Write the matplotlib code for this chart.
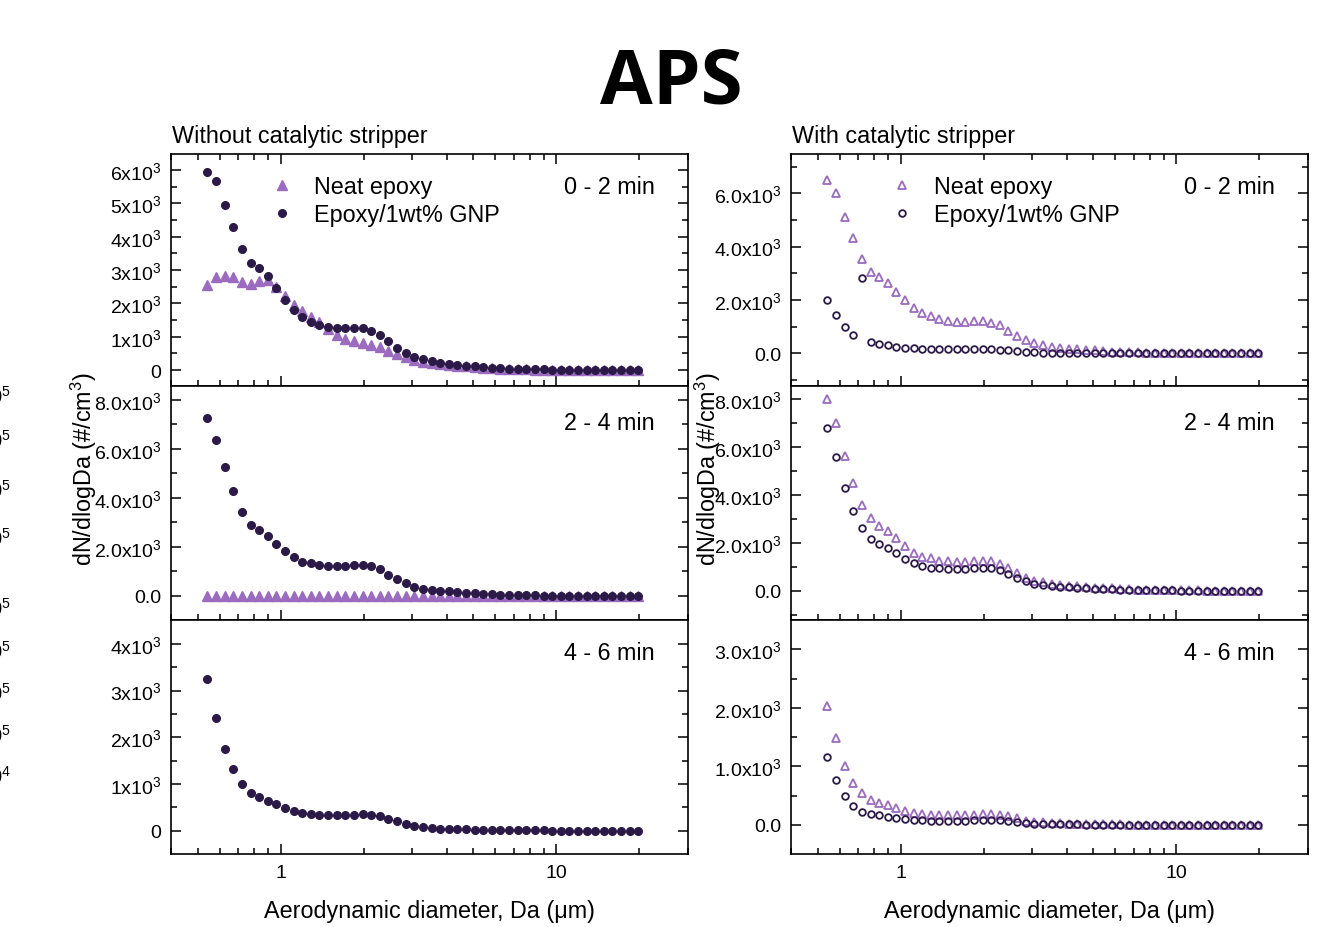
import numpy as np
import matplotlib
matplotlib.use("Agg")
import matplotlib.pyplot as plt
from matplotlib.ticker import FixedLocator, LogLocator, NullFormatter, FixedFormatter

plt.rcParams['font.family'] = ['Liberation Sans', 'DejaVu Sans']
plt.rcParams['mathtext.fontset'] = 'custom'
plt.rcParams['mathtext.rm'] = 'Liberation Sans'
plt.rcParams['mathtext.it'] = 'Liberation Sans:italic'
plt.rcParams['mathtext.default'] = 'regular'

# --- APS channel midpoints (um) ---
diam = [0.542, 0.583, 0.626, 0.673, 0.723, 0.777, 0.835, 0.898, 0.965, 1.037,
        1.114, 1.197, 1.286, 1.382, 1.486, 1.596, 1.715, 1.843, 1.981, 2.129,
        2.288, 2.458, 2.642, 2.839, 3.051, 3.278, 3.523, 3.786, 4.068, 4.371,
        4.698, 5.048, 5.425, 5.829, 6.264, 6.732, 7.234, 7.774, 8.354, 8.977,
        9.647, 10.37, 11.14, 11.97, 12.86, 13.82, 14.86, 15.96, 17.15, 18.43, 19.81]

# --- Without catalytic stripper ---
neat_0_2 = [2550, 2780, 2830, 2800, 2650, 2580, 2670, 2700, 2500, 2230,
            1960, 1760, 1580, 1430, 1230, 1060, 930, 860, 810, 760,
            680, 580, 480, 380, 300, 240, 200, 170, 150, 130,
            110, 90, 70, 55, 40, 32, 25, 20, 15, 12,
            9, 7, 5, 4, 3, 3, 2, 2, 1, 1, 1]
gnp_0_2 = [5930, 5660, 4960, 4300, 3630, 3220, 3070, 2830, 2460, 2110,
           1810, 1590, 1450, 1350, 1280, 1250, 1250, 1250, 1250, 1180,
           1050, 870, 660, 510, 380, 320, 260, 220, 190, 160,
           130, 110, 90, 70, 55, 45, 35, 28, 22, 18,
           14, 11, 9, 7, 6, 5, 4, 3, 3, 2, 2]
neat_2_4 = [0, 0, 0, 0, 0, 0, 0, 0, 0, 0,
            0, 0, 0, 0, 0, 0, 0, 0, 0, 0,
            0, 0, 0, 0, 0, 0, 0, 0, 0, 0,
            0, 0, 0, 0, 0, 0, 0, 0, 0, 0,
            0, 0, 0, 0, 0, 0, 0, 0, 0, 0, 0]
gnp_2_4 = [7240, 6370, 5240, 4260, 3440, 2910, 2690, 2440, 2130, 1820,
           1580, 1400, 1330, 1250, 1220, 1220, 1220, 1250, 1260, 1220,
           1090, 870, 680, 520, 370, 290, 230, 200, 190, 160,
           130, 110, 90, 70, 55, 45, 35, 28, 22, 17,
           13, 10, 8, 6, 5, 4, 3, 3, 2, 2, 1]
gnp_4_6 = [3250, 2410, 1740, 1310, 990, 810, 730, 640, 560, 490,
           410, 380, 350, 340, 330, 340, 340, 340, 350, 340,
           310, 260, 200, 140, 100, 70, 50, 43, 36, 33,
           28, 23, 19, 15, 12, 10, 8, 6, 5, 4,
           3, 3, 2, 2, 2, 1, 1, 1, 1, 1, 1]

# --- With catalytic stripper ---
cs_neat_0_2 = [6500, 6010, 5125, 4310, 3525, 3040, 2860, 2640, 2310, 2000,
               1700, 1510, 1390, 1290, 1200, 1175, 1175, 1200, 1200, 1150,
               1050, 840, 650, 500, 400, 310, 250, 200, 175, 140,
               125, 110, 90, 60, 45, 35, 28, 22, 18, 15,
               12, 10, 8, 6, 5, 4, 3, 3, 2, 2, 2]
cs_gnp_0_2 = [2010, 1450, 990, 700, 2830, 410, 350, 300, 250, 210,
              190, 160, 150, 150, 150, 150, 150, 150, 145, 140,
              137, 110, 90, 60, 30, 15, 8, 5, 3, 3,
              2, 2, 2, 1, 1, 1, 1, 1, 1, 1,
              1, 1, 1, 1, 1, 1, 1, 1, 1, 1, 1]
cs_neat_2_4 = [8000, 7000, 5630, 4490, 3590, 3020, 2710, 2490, 2180, 1850,
               1590, 1420, 1350, 1250, 1220, 1210, 1210, 1250, 1250, 1225,
               1130, 950, 740, 520, 420, 350, 280, 240, 210, 190,
               160, 130, 120, 100, 75, 60, 45, 35, 28, 22,
               17, 13, 10, 8, 6, 5, 4, 3, 3, 2, 2]
cs_gnp_2_4 = [6790, 5560, 4270, 3340, 2620, 2160, 1960, 1790, 1560, 1310,
              1140, 1030, 960, 930, 920, 920, 920, 930, 960, 950,
              860, 690, 540, 390, 280, 225, 200, 170, 140, 125,
              100, 85, 70, 55, 40, 30, 22, 17, 13, 10,
              8, 6, 5, 4, 3, 3, 2, 2, 1, 1, 1]
cs_neat_4_6 = [2030, 1480, 1000, 720, 540, 420, 380, 330, 285, 240,
               205, 180, 165, 165, 165, 165, 165, 170, 180, 180,
               175, 150, 115, 70, 55, 40, 30, 25, 20, 16,
               13, 10, 8, 6, 5, 4, 3, 3, 2, 2,
               2, 1, 1, 1, 1, 1, 1, 1, 1, 1, 1]
cs_gnp_4_6 = [1150, 760, 485, 325, 220, 180, 160, 137, 120, 97,
              85, 74, 68, 68, 68, 68, 68, 74, 80, 80,
              78, 65, 50, 30, 20, 15, 10, 8, 6, 5,
              4, 3, 3, 2, 2, 2, 1, 1, 1, 1,
              1, 1, 1, 1, 1, 1, 1, 1, 1, 1, 1]

periods = ['0 - 2 min', '2 - 4 min', '4 - 6 min']

NEAT_C = '#9b6bc0'
GNP_C = '#2b1a47'

W, H = 1327, 928
fig = plt.figure(figsize=(W / 100, H / 100), dpi=100)


def px_axes(x0, x1, y0, y1):
    return fig.add_axes([x0 / W, 1 - y1 / H, (x1 - x0) / W, (y1 - y0) / H])


def ylabels(ticks, decimals):
    out = []
    for t in ticks:
        if t == 0:
            out.append('0.0' if decimals else '0')
        else:
            m = t / 1000
            out.append((f'{m:.1f}' if decimals else f'{m:.0f}') + 'x10$^3$')
    return out


def style(ax, ylim, major, minor, decimals, top, bottom_labels):
    ax.set_xscale('log')
    ax.set_xlim(0.4, 30)
    ax.set_ylim(*ylim)
    ax.yaxis.set_major_locator(FixedLocator(major))
    ax.yaxis.set_minor_locator(FixedLocator(minor))
    ax.yaxis.set_major_formatter(FixedFormatter(ylabels(major, decimals)))
    ax.xaxis.set_major_locator(LogLocator(base=10, numticks=10))
    ax.xaxis.set_minor_locator(LogLocator(base=10, subs=np.arange(2, 10), numticks=10))
    ax.xaxis.set_minor_formatter(NullFormatter())
    ax.tick_params(which='both', direction='in', top=top, right=True, labelsize=14, width=1.1)
    ax.tick_params(which='major', length=7, pad=7)
    ax.tick_params(which='minor', length=4)
    if bottom_labels:
        ax.set_xticks([1, 10])
        ax.set_xticklabels(['1', '10'])
    else:
        ax.tick_params(axis='x', labelbottom=False)
    for s in ax.spines.values():
        s.set_linewidth(1.2)


def add_legend(ax):
    ax.legend(loc='upper left', bbox_to_anchor=(0.194, 0.91), frameon=False,
              fontsize=16.8, handlelength=0.9, handletextpad=0.95,
              labelspacing=0.22, borderpad=0, borderaxespad=0)


rows = [(155, 387), (387, 621), (621, 855)]

# left column: filled markers
left_data = [(neat_0_2, gnp_0_2), (neat_2_4, gnp_2_4), (None, gnp_4_6)]
left_lims = [(-480, 6480), (-980, 8560), (-500, 4510)]
left_major = [[0, 1000, 2000, 3000, 4000, 5000, 6000],
              [0, 2000, 4000, 6000, 8000],
              [0, 1000, 2000, 3000, 4000]]
left_minor = [list(range(500, 6500, 1000)), list(range(1000, 9000, 2000)),
              list(range(500, 4500, 1000))]
left_dec = [False, True, False]

for i, (y0, y1) in enumerate(rows):
    ax = px_axes(171, 688, y0, y1)
    neat, gnp = left_data[i]
    if neat is not None:
        ax.plot(diam, neat, linestyle='none', marker='^', ms=6.5, color=NEAT_C,
                mec=NEAT_C, label='Neat epoxy')
    ax.plot(diam, gnp, linestyle='none', marker='o', ms=5.5, color=GNP_C,
            mec=GNP_C, label='Epoxy/1wt% GNP')
    style(ax, left_lims[i], left_major[i], left_minor[i], left_dec[i], i == 0, i == 2)
    ax.text(0.936, 0.86 if i != 1 else 0.845, periods[i], transform=ax.transAxes,
            ha='right', va='center', fontsize=16.8)
    if i == 0:
        add_legend(ax)

# right column: open markers
right_data = [(cs_neat_0_2, cs_gnp_0_2), (cs_neat_2_4, cs_gnp_2_4), (cs_neat_4_6, cs_gnp_4_6)]
right_lims = [(-1230, 7475), (-1225, 8545), (-500, 3500)]
right_major = [[0, 2000, 4000, 6000], [0, 2000, 4000, 6000, 8000], [0, 1000, 2000, 3000]]
right_minor = [[-1000, 1000, 3000, 5000, 7000], [-1000, 1000, 3000, 5000, 7000],
               [500, 1500, 2500]]

for i, (y0, y1) in enumerate(rows):
    ax = px_axes(791, 1308, y0, y1)
    neat, gnp = right_data[i]
    ax.plot(diam, neat, linestyle='none', marker='^', ms=5.8, mfc='none',
            mec=NEAT_C, mew=1.3, label='Neat epoxy')
    ax.plot(diam, gnp, linestyle='none', marker='o', ms=4.8, mfc='none',
            mec=GNP_C, mew=1.3, label='Epoxy/1wt% GNP')
    style(ax, right_lims[i], right_major[i], right_minor[i], True, i == 0, i == 2)
    ax.text(0.936, 0.86 if i != 1 else 0.845, periods[i], transform=ax.transAxes,
            ha='right', va='center', fontsize=16.8)
    if i == 0:
        add_legend(ax)

# titles and axis labels
fig.text(671 / W, 1 - 84 / H, 'APS', ha='center', va='center', fontsize=55,
         fontweight='bold', family=['Open Sans', 'DejaVu Sans'])
fig.text(172 / W, 1 - 136 / H, 'Without catalytic stripper', ha='left', va='center', fontsize=16.8)
fig.text(792 / W, 1 - 136 / H, 'With catalytic stripper', ha='left', va='center', fontsize=16.8)
for xc in (84, 708):
    fig.text(xc / W, 1 - 469 / H, 'dN/dlogDa (#/cm$^3$)', rotation=90,
             ha='center', va='center', fontsize=16.8)
for xc in (430, 1050):
    fig.text(xc / W, 1 - 912 / H, 'Aerodynamic diameter, Da (μm)',
             ha='center', va='center', fontsize=16.8)

# cut-off tick labels of the neighbouring figure at the left edge
edge_y = [397, 441, 491, 539, 609, 652, 694, 736, 777]
edge_exp = ['5', '5', '5', '5', '5', '5', '5', '5', '4']
for yy, ex in zip(edge_y, edge_exp):
    fig.text(11 / W, 1 - yy / H, '2.0x10$^' + ex + '$', ha='right', va='center', fontsize=14.5)

fig.savefig('out.png', dpi=100, facecolor='white')
